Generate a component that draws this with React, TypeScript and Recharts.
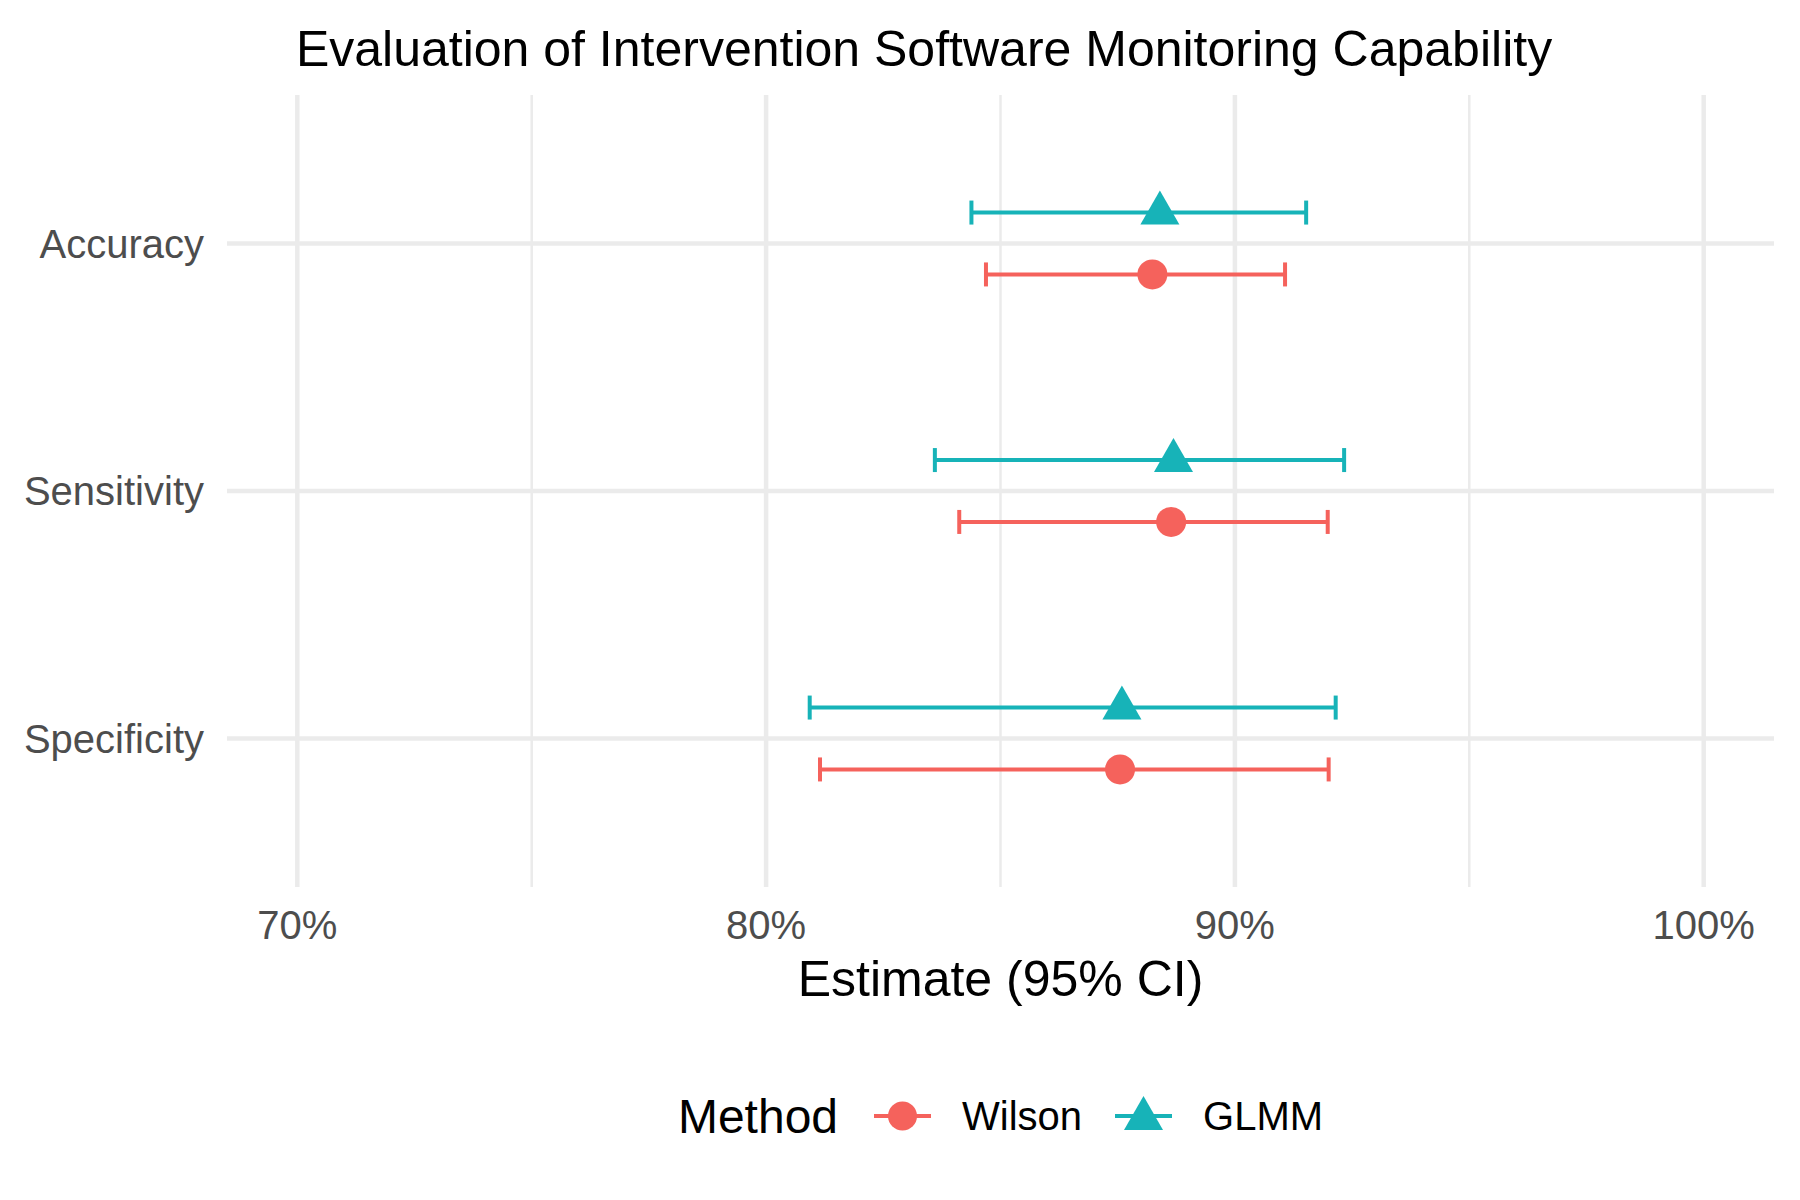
import React from "react";
import {
  ScatterChart,
  Scatter,
  XAxis,
  YAxis,
  CartesianGrid,
  ErrorBar,
  ReferenceLine,
  Legend,
} from "recharts";

const FONT = "'Liberation Sans', Arial, Helvetica, sans-serif";
const WILSON_COLOR = "#F5625C";
const GLMM_COLOR = "#17B3B8";
const GRID = "#EBEBEB";

// values in percent
const metrics = ["Accuracy", "Sensitivity", "Specificity"];
const methods = ["Wilson", "GLMM"];
const wilsonEst = [88.24, 88.64, 87.55];
const wilsonLow = [84.69, 84.12, 81.15];
const wilsonHigh = [91.07, 91.98, 92.0];
const glmmEst = [88.4, 88.69, 87.59];
const glmmLow = [84.38, 83.6, 80.93];
const glmmHigh = [91.52, 92.33, 92.15];
const xTicks = [70, 80, 90, 100];
const minorTicks = [75, 85, 95];

const DODGE = 0.125;

const rowY = (i: number) => metrics.length - i;

const buildRows = (est: number[], low: number[], high: number[], shift: number) =>
  metrics.map((m, i) => ({
    metric: m,
    x: est[i],
    y: rowY(i) + shift,
    err: [est[i] - low[i], high[i] - est[i]],
  }));

const wilsonData = buildRows(wilsonEst, wilsonLow, wilsonHigh, -DODGE);
const glmmData = buildRows(glmmEst, glmmLow, glmmHigh, DODGE);

const CircleMark = (p: any) => <circle cx={p.cx} cy={p.cy} r={15} fill={WILSON_COLOR} />;

const TriangleMark = (p: any) => (
  <path
    d={`M${p.cx},${p.cy - 22}L${p.cx + 19.5},${p.cy + 12}L${p.cx - 19.5},${p.cy + 12}Z`}
    fill={GLMM_COLOR}
  />
);

function LegendGlyph({ color, shape }: { color: string; shape: string }) {
  return (
    <svg width={57} height={40} style={{ display: "block" }}>
      <line x1={0} y1={20} x2={57} y2={20} stroke={color} strokeWidth={4} />
      {shape === "circle" ? (
        <circle cx={28.5} cy={20} r={14.5} fill={color} />
      ) : (
        <path d="M28.5,0L48,34L9,34Z" fill={color} />
      )}
    </svg>
  );
}

function MethodLegend({ payload }: any) {
  const items = [...(payload ?? [])].sort(
    (a: any, b: any) => methods.indexOf(a.value) - methods.indexOf(b.value)
  );
  return (
    <div
      style={{
        display: "flex",
        alignItems: "center",
        justifyContent: "center",
        height: 60,
        fontFamily: FONT,
        color: "#000",
      }}
    >
      <span style={{ fontSize: 48, marginRight: 36 }}>Method</span>
      {items.map((it: any, idx: number) => (
        <React.Fragment key={it.value}>
          <LegendGlyph color={it.color} shape={it.value === "Wilson" ? "circle" : "triangle"} />
          <span style={{ fontSize: 40, marginLeft: 31, marginRight: idx === 0 ? 33 : 0 }}>
            {it.value}
          </span>
        </React.Fragment>
      ))}
    </div>
  );
}

export default function App() {
  return (
    <div style={{ position: "absolute", left: 0, top: 0, width: 1800, height: 1200, background: "#fff" }}>
      <div
        style={{
          position: "absolute",
          left: 0,
          top: 24,
          width: 1848,
          textAlign: "center",
          fontFamily: FONT,
          fontSize: 50,
          lineHeight: "50px",
          color: "#000",
          whiteSpace: "nowrap",
        }}
      >
        Evaluation of Intervention Software Monitoring Capability
      </div>
      <ScatterChart
        width={1800}
        height={1200}
        margin={{ top: 95, right: 26, bottom: 253, left: 0 }}
        style={{ fontFamily: FONT }}
      >
        <CartesianGrid stroke={GRID} strokeWidth={4.5} syncWithTicks />
        {minorTicks.map((t) => (
          <ReferenceLine key={t} x={t} stroke={GRID} strokeWidth={2.5} />
        ))}
        <XAxis
          type="number"
          dataKey="x"
          domain={[68.5, 101.5]}
          ticks={xTicks}
          tickFormatter={(v: number) => `${v}%`}
          axisLine={false}
          tickLine={false}
          tickSize={0}
          tickMargin={24}
          height={60}
          tick={{ fontSize: 40, fill: "#4D4D4D", fontFamily: FONT }}
          label={{
            value: "Estimate (95% CI)",
            position: "bottom",
            offset: 13,
            style: { fontSize: 50, fill: "#000", fontFamily: FONT },
          }}
        />
        <YAxis
          type="number"
          dataKey="y"
          domain={[0.4, 3.6]}
          ticks={[1, 2, 3]}
          tickFormatter={(v: number) => metrics[metrics.length - v] ?? ""}
          axisLine={false}
          tickLine={false}
          tickSize={0}
          tickMargin={23}
          width={227}
          tick={{ fontSize: 40, fill: "#4D4D4D", fontFamily: FONT }}
        />
        <Legend
          verticalAlign="middle"
          layout="horizontal"
          wrapperStyle={{ top: 1086, left: 227, width: 1547, height: 60 }}
          content={<MethodLegend />}
        />
        <Scatter
          name="Wilson"
          data={wilsonData}
          fill={WILSON_COLOR}
          shape={CircleMark}
          isAnimationActive={false}
        >
          <ErrorBar dataKey="err" direction="x" width={12} stroke={WILSON_COLOR} strokeWidth={4} />
        </Scatter>
        <Scatter
          name="GLMM"
          data={glmmData}
          fill={GLMM_COLOR}
          shape={TriangleMark}
          isAnimationActive={false}
        >
          <ErrorBar dataKey="err" direction="x" width={12} stroke={GLMM_COLOR} strokeWidth={4} />
        </Scatter>
      </ScatterChart>
    </div>
  );
}
